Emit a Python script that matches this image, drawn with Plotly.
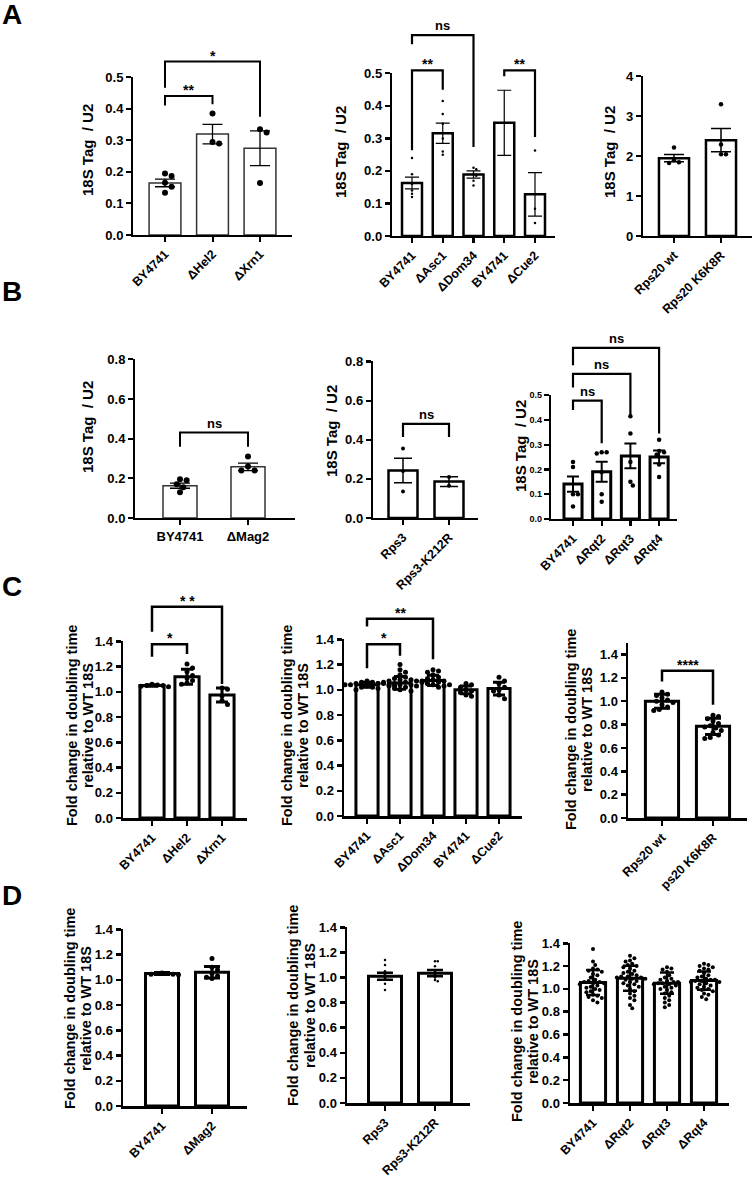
import plotly.graph_objects as go

W, H = 753, 1179
OFF = 0  # body margin is removed in the page (see post_script), so figure px == page px
FONT = "Liberation Sans, Arial, sans-serif"

# ------------------------------------------------------------------ data
A1_labels = ["BY4741", "ΔHel2", "ΔXrn1"]
A1_mean = [0.165, 0.32, 0.275]
A1_err = [0.012, 0.031, 0.055]
A1_pts = [[0.195, 0.187, 0.166, 0.153, 0.134], [0.385, 0.295, 0.29], [0.335, 0.325, 0.165]]
A1_sig = [(0, 1, "**", 0.44, 0.41, 0.414), (0, 2, "*", 0.549, 0.466, 0.374)]

A2_labels = ["BY4741", "ΔAsc1", "ΔDom34", "BY4741", "ΔCue2"]
A2_mean = [0.163, 0.316, 0.189, 0.348, 0.128]
A2_err = [0.018, 0.031, 0.011, 0.1, 0.067]
A2_pts = [[0.24, 0.19, 0.16, 0.14, 0.13, 0.12], [0.415, 0.375, 0.345, 0.30, 0.26, 0.25],
          [0.21, 0.205, 0.19, 0.185, 0.17, 0.155], [], [0.263, 0.084, 0.04]]
A2_sig = [(0, 1, "**", 0.508, 0.263, 0.449), (0, 2, "ns", 0.616, 0.588, 0.273), (3, 4, "**", 0.508, 0.49, 0.304)]

A3_labels = ["Rps20 wt", "Rps20 K6K8R"]
A3_mean = [1.95, 2.40]
A3_err = [0.09, 0.29]
A3_pts = [[2.22, 1.9, 1.85, 1.83], [3.3, 2.29, 2.05, 2.05]]
A3_sig = []

B1_labels = ["BY4741", "ΔMag2"]
B1_mean = [0.163, 0.258]
B1_err = [0.013, 0.019]
B1_pts = [[0.195, 0.19, 0.17, 0.155, 0.13], [0.31, 0.26, 0.24, 0.24]]
B1_sig = [(0, 1, "ns", 0.43, 0.358, 0.358)]

B2_labels = ["Rps3", "Rps3-K212R"]
B2_mean = [0.243, 0.186]
B2_err = [0.063, 0.025]
B2_pts = [[0.355, 0.24, 0.135], [0.21, 0.165]]
B2_sig = [(0, 1, "ns", 0.48, 0.413, 0.413)]

B3_labels = ["BY4741", "ΔRqt2", "ΔRqt3", "ΔRqt4"]
B3_mean = [0.141, 0.191, 0.255, 0.251]
B3_err = [0.031, 0.04, 0.05, 0.026]
B3_pts = [[0.23, 0.21, 0.1, 0.1, 0.05], [0.27, 0.27, 0.265, 0.19, 0.1, 0.07],
          [0.415, 0.345, 0.23, 0.15, 0.135], [0.32, 0.275, 0.27, 0.26, 0.22, 0.17]]
B3_sig = [(0, 1, "ns", 0.477, 0.44, 0.305), (0, 2, "ns", 0.585, 0.53, 0.413), (0, 3, "ns", 0.69, 0.62, 0.345)]

C1_labels = ["BY4741", "ΔHel2", "ΔXrn1"]
C1_mean = [1.05, 1.12, 0.975]
C1_err = [0.006, 0.06, 0.055]
C1_pts = [[1.06, 1.055, 1.05, 1.05, 1.045, 1.04], [1.22, 1.19, 1.16, 1.13, 1.11, 1.09, 1.07, 1.06],
          [1.03, 1.02, 0.97, 0.93, 0.9]]
C1_sig = [(0, 1, "*", 1.374, 1.276, 1.297), (0, 2, "* *", 1.671, 1.474, 1.06)]

C2_labels = ["BY4741", "ΔAsc1", "ΔDom34", "BY4741", "ΔCue2"]
C2_mean = [1.04, 1.055, 1.075, 1.0, 1.01]
C2_err = [0.02, 0.05, 0.04, 0.03, 0.05]
C2_pts = [[1.07, 1.06, 1.06, 1.05, 1.05, 1.05, 1.04, 1.04, 1.04, 1.03, 1.03, 1.02, 1.02, 1.01, 1.0],
          [1.2, 1.16, 1.14, 1.12, 1.1, 1.09, 1.08, 1.08, 1.07, 1.07, 1.06, 1.06, 1.06, 1.05, 1.05,
           1.05, 1.04, 1.04, 1.04, 1.03, 1.03, 1.02, 1.01, 1.0, 0.99],
          [1.16, 1.15, 1.14, 1.12, 1.1, 1.09, 1.08, 1.07, 1.07, 1.06, 1.05, 1.04, 1.04, 1.03, 1.02],
          [1.05, 1.04, 1.02, 1.0, 0.99, 0.98, 0.96, 0.95],
          [1.1, 1.07, 1.05, 1.02, 1.0, 0.99, 0.96, 0.93]]
C2_sig = [(0, 1, "*", 1.359, 1.169, 1.267), (0, 2, "**", 1.56, 1.5, 1.24)]

C3_labels = ["Rps20 wt", "ps20 K6K8R"]
C3_mean = [1.0, 0.785]
C3_err = [0.06, 0.07]
C3_pts = [[1.08, 1.06, 1.05, 1.03, 1.01, 1.0, 0.99, 0.97, 0.95, 0.93, 0.92],
          [0.88, 0.87, 0.85, 0.83, 0.81, 0.79, 0.78, 0.77, 0.75, 0.73, 0.71, 0.69, 0.68]]
C3_sig = [(0, 1, "****", 1.258, 1.167, 0.968)]

D1_labels = ["BY4741", "ΔMag2"]
D1_mean = [1.05, 1.06]
D1_err = [0.008, 0.045]
D1_pts = [[1.055, 1.05, 1.05, 1.045, 1.045, 1.04], [1.17, 1.1, 1.08, 1.05, 1.03, 1.02, 1.01]]
D1_sig = []

D2_labels = ["Rps3", "Rps3-K212R"]
D2_mean = [1.01, 1.035]
D2_err = [0.028, 0.025]
D2_pts = [[1.14, 1.1, 1.05, 1.0, 0.95, 0.9], [1.13, 1.13, 1.09, 1.0, 0.98, 0.97]]
D2_sig = []

D3_labels = ["BY4741", "ΔRqt2", "ΔRqt3", "ΔRqt4"]
D3_mean = [1.056, 1.094, 1.05, 1.073]
D3_err = [0.11, 0.11, 0.093, 0.08]
D3_pts = [[1.35, 1.24, 1.21, 1.18, 1.17, 1.16, 1.15, 1.13, 1.12, 1.1, 1.08, 1.07, 1.06, 1.06, 1.05,
           1.05, 1.04, 1.03, 1.02, 1.01, 1.0, 0.99, 0.98, 0.97, 0.95, 0.94, 0.93, 0.92, 0.9, 0.88],
          [1.29, 1.27, 1.25, 1.24, 1.22, 1.21, 1.2, 1.19, 1.18, 1.16, 1.15, 1.14, 1.13, 1.12, 1.11,
           1.11, 1.1, 1.1, 1.09, 1.09, 1.08, 1.07, 1.06, 1.05, 1.04, 1.03, 1.02, 1.0, 0.98, 0.96,
           0.94, 0.92, 0.9, 0.86, 0.83],
          [1.19, 1.18, 1.17, 1.15, 1.12, 1.1, 1.09, 1.08, 1.07, 1.06, 1.06, 1.05, 1.05, 1.04, 1.04,
           1.03, 1.02, 1.01, 1.0, 0.99, 0.97, 0.96, 0.94, 0.92, 0.9, 0.88, 0.86, 0.84],
          [1.22, 1.21, 1.2, 1.19, 1.18, 1.17, 1.16, 1.14, 1.12, 1.11, 1.1, 1.09, 1.08, 1.08, 1.07,
           1.07, 1.06, 1.06, 1.05, 1.04, 1.03, 1.02, 1.01, 1.0, 0.99, 0.98, 0.96, 0.95, 0.93, 0.91]]
D3_sig = []

Y18 = "18S Tag\u00a0 / U2"
YFC = ("Fold change in doubling time", "relative to WT 18S")

DATA = {
    "A1": (A1_labels, A1_mean, A1_err, A1_pts, A1_sig),
    "A2": (A2_labels, A2_mean, A2_err, A2_pts, A2_sig),
    "A3": (A3_labels, A3_mean, A3_err, A3_pts, A3_sig),
    "B1": (B1_labels, B1_mean, B1_err, B1_pts, B1_sig),
    "B2": (B2_labels, B2_mean, B2_err, B2_pts, B2_sig),
    "B3": (B3_labels, B3_mean, B3_err, B3_pts, B3_sig),
    "C1": (C1_labels, C1_mean, C1_err, C1_pts, C1_sig),
    "C2": (C2_labels, C2_mean, C2_err, C2_pts, C2_sig),
    "C3": (C3_labels, C3_mean, C3_err, C3_pts, C3_sig),
    "D1": (D1_labels, D1_mean, D1_err, D1_pts, D1_sig),
    "D2": (D2_labels, D2_mean, D2_err, D2_pts, D2_sig),
    "D3": (D3_labels, D3_mean, D3_err, D3_pts, D3_sig),
}

# ------------------------------------------------------------------ geometry (pixels) / style
def G(xa, xe, c0, s, p0, k, ymax, dtick, fmt, yb=None, tf=13, xf=12.5, bw=0.66, blw=3,
      bcol="black", alw=2.5, ms=5, ew=6, eth=2.5, ang=-45, title=None, tx=None, ty=None, tfs=15):
    return dict(xa=xa, xe=xe, c0=c0, s=s, p0=p0, k=k, ymax=ymax, dtick=dtick, fmt=fmt, yb=yb,
                tf=tf, xf=xf, bw=bw, blw=blw, bcol=bcol, alw=alw, ms=ms, ew=ew, eth=eth, ang=ang,
                title=title, tx=tx, ty=ty, tfs=tfs)

GEOM = {
    "A1": G(133, 292, 165, 47.5, 235, 316, 0.5, 0.1, ".1f", yb=0.64, bw=0.67, blw=1.5, bcol="#333",
            alw=2, ms=6, ew=10, eth=1.3, title=[Y18], tx=[87], ty=150),
    "A2": G(392, 555, 412, 30.75, 236, 326, 0.5, 0.1, ".1f", yb=0.68, bw=0.65, blw=2.5, alw=2.2,
            ms=2.5, ew=7, eth=1.2, title=[Y18], tx=[340], ty=152),
    "A3": G(643, 752, 674, 47, 236, 40, 4, 1, ".0f", bw=0.64, blw=2.5, alw=2.2, ms=4.5, ew=10,
            eth=1.5, title=[Y18], tx=[609], ty=152),
    "B1": G(135, 295, 180, 68, 518, 198.75, 0.8, 0.2, ".1f", yb=0.55, bw=0.5, blw=1.5, bcol="#333",
            alw=2, ms=6, ew=10, eth=1.3, ang=0, xf=13, title=[Y18], tx=[87], ty=427),
    "B2": G(373, 478, 403, 46, 518, 196, 0.8, 0.2, ".1f", yb=0.6, bw=0.63, blw=2.5, alw=2.2,
            ms=4, ew=9, eth=1.5, title=[Y18], tx=[331], ty=431),
    "B3": G(551, 677, 573, 28.7, 519, 248, 0.5, 0.1, ".1f", yb=0.8, tf=9, bw=0.63, blw=3, alw=2.2,
            ms=4.5, ew=6, eth=2, title=[Y18], tx=[521], ty=446),
    "C1": G(123, 247, 152, 35, 818, 126.4, 1.4, 0.2, ".1f", yb=1.9, bw=0.69, ms=5, ew=6, eth=3,
            title=YFC, tx=[72, 88], ty=726, tfs=14.5),
    "C2": G(344, 522, 367, 33, 816, 126.4, 1.4, 0.2, ".1f", yb=1.8, bw=0.67, ms=5, ew=6, eth=3,
            title=YFC, tx=[287, 303], ty=726, tfs=14.5),
    "C3": G(628, 747, 662, 51, 818, 117, 1.5, 0.2, ".1f", yb=1.55, bw=0.65, ms=5, ew=8, eth=3,
            title=YFC, tx=[571, 587], ty=730, tfs=14.5),
    "D1": G(123, 247, 162, 50, 1106, 126.4, 1.4, 0.2, ".1f", bw=0.66, ms=5, ew=8, eth=3,
            title=YFC, tx=[70, 86], ty=1009, tfs=14.5),
    "D2": G(347, 470, 385, 50, 1103, 125.7, 1.4, 0.2, ".1f", bw=0.66, ms=2.5, ew=8, eth=2.5,
            title=YFC, tx=[293, 310], ty=1006, tfs=14.5),
    "D3": G(570, 729, 593, 37, 1103, 114.3, 1.4, 0.2, ".1f", bw=0.68, ms=4, ew=7, eth=2.5,
            title=YFC, tx=[517, 533], ty=1022, tfs=14.5),
}

LETTERS = [("A", 12, 15), ("B", 12, 291), ("C", 12, 586), ("D", 12, 895)]


def fx(px):
    return (px - OFF) / W


def fy(py):
    return 1 - (py - OFF) / H


def swarm(vals, k, d):
    """Beeswarm offsets in px so markers of diameter d do not overlap."""
    placed, offs = [], []
    for v in vals:
        y = v * k
        m = 0
        found = None
        while found is None:
            cands = [0.0] if m == 0 else [m * d * 0.55, -m * d * 0.55]
            for c in cands:
                if all((c - ox) ** 2 + (y - oy) ** 2 >= (d * 0.95) ** 2 for ox, oy in placed):
                    found = c
                    break
            m += 1
        placed.append((found, y))
        offs.append(found)
    return offs


fig = go.Figure()
layout = {}
annotations = []
bold = dict(family=FONT, color="black", weight="bold")

for p, key in enumerate(["A1", "A2", "A3", "B1", "B2", "B3", "C1", "C2", "C3", "D1", "D2", "D3"], start=1):
    labels, mean, err, pts, sig = DATA[key]
    g = GEOM[key]
    n = len(labels)
    xs = list(range(n))
    xn = "x" if p == 1 else f"x{p}"
    yn = "y" if p == 1 else f"y{p}"
    xk = "xaxis" if p == 1 else f"xaxis{p}"
    yk = "yaxis" if p == 1 else f"yaxis{p}"

    fig.add_trace(go.Bar(
        x=xs, y=mean, width=g["bw"],
        marker=dict(color="white", line=dict(color=g["bcol"], width=g["blw"])),
        error_y=dict(type="data", array=err, symmetric=True, color="black",
                     thickness=g["eth"], width=g["ew"]),
        xaxis=xn, yaxis=yn, showlegend=False, hoverinfo="skip"))

    px_, py_ = [], []
    for i, vals in enumerate(pts):
        offs = swarm(vals, g["k"], g["ms"])
        for v, o in zip(vals, offs):
            px_.append(i + o / g["s"])
            py_.append(v)
    fig.add_trace(go.Scatter(x=px_, y=py_, mode="markers",
                             marker=dict(color="black", size=g["ms"], line=dict(width=0)),
                             xaxis=xn, yaxis=yn, cliponaxis=False, showlegend=False))

    bottom = fy(g["p0"])
    top = fy(g["p0"] - g["ymax"] * g["k"])
    layout[xk] = dict(domain=[fx(g["xa"]), fx(g["xe"])],
                      range=[(g["xa"] - g["c0"]) / g["s"], (g["xe"] - g["c0"]) / g["s"]],
                      anchor=yn, showline=True, linecolor="black", linewidth=g["alw"],
                      ticks="outside", ticklen=5, tickwidth=g["alw"], tickcolor="black",
                      tickvals=xs, ticktext=labels, tickangle=g["ang"], automargin=False,
                      tickfont=dict(size=g["xf"], **bold), showgrid=False, zeroline=False,
                      fixedrange=True)
    layout[yk] = dict(domain=[bottom, top], range=[0, g["ymax"] * 1.002], anchor=xn,
                      showline=True, linecolor="black", linewidth=g["alw"], automargin=False,
                      ticks="outside", ticklen=5, tickwidth=g["alw"], tickcolor="black",
                      tickmode="linear", tick0=0, dtick=g["dtick"], tickformat=g["fmt"],
                      tickfont=dict(size=g["tf"], **bold),
                      showgrid=False, zeroline=False, fixedrange=True)

    if sig:
        ybn = f"y{p + 12}"
        ybk = f"yaxis{p + 12}"
        ytop = fy(g["p0"] - g["yb"] * g["k"])
        layout[ybk] = dict(domain=[bottom, ytop], range=[0, g["yb"]], anchor=xn, visible=False,
                           fixedrange=True, automargin=False)
        bx, by = [], []
        for (i, j, lab, t, lb, rb) in sig:
            bx += [i, i, j, j, None]
            by += [lb, t, t, rb, None]
            star = "*" in lab
            annotations.append(dict(x=(i + j) / 2, y=t, xref=xn, yref=ybn, text=lab,
                                    showarrow=False, yanchor="bottom",
                                    yshift=-4 if star else 0,
                                    font=dict(size=14 if star else 13, **bold)))
        fig.add_trace(go.Scatter(x=bx, y=by, mode="lines",
                                 line=dict(color="black", width=g["alw"]),
                                 xaxis=xn, yaxis=ybn, showlegend=False, hoverinfo="skip"))

    for line, tx in zip(g["title"], g["tx"]):
        annotations.append(dict(x=fx(tx), y=fy(g["ty"]), xref="paper", yref="paper",
                                text=line, textangle=-90, showarrow=False,
                                xanchor="center", yanchor="middle",
                                font=dict(size=g["tfs"], **bold)))

for letter, lx, ly in LETTERS:
    annotations.append(dict(x=fx(lx), y=fy(ly), xref="paper", yref="paper", text=letter,
                            showarrow=False, xanchor="center", yanchor="middle",
                            font=dict(size=28, **bold)))

fig.update_layout(width=W, height=H,
                  margin=dict(l=0, r=0, t=0, b=0, pad=0, autoexpand=False),
                  paper_bgcolor="white", plot_bgcolor="rgba(0,0,0,0)",
                  annotations=annotations, showlegend=False, bargap=0, hovermode=False,
                  font=dict(family=FONT, color="black"), **layout)

fig.write_html("out.html",
               config={"displayModeBar": False, "staticPlot": True},
               post_script="document.body.style.margin='0px';document.body.style.padding='0px';")
